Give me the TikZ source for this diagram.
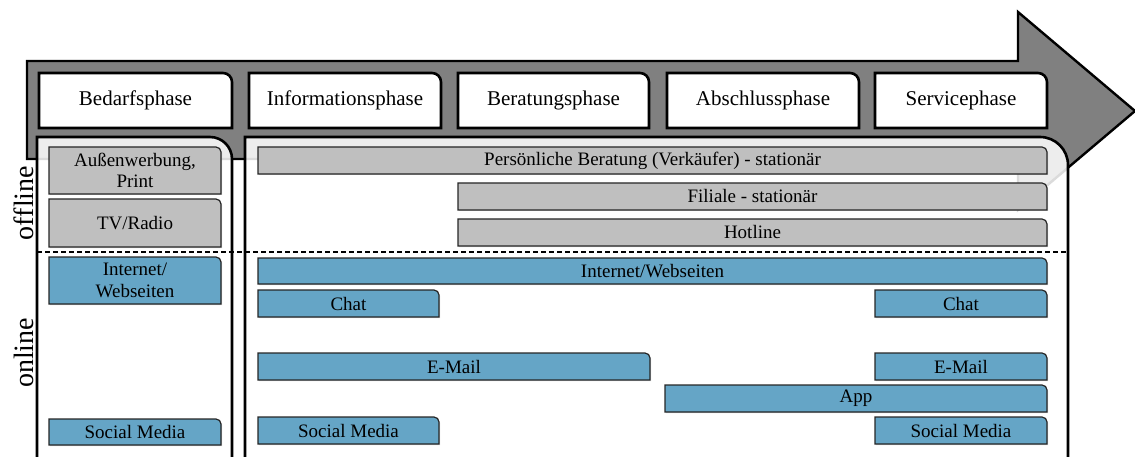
\documentclass[tikz,border=0pt]{standalone}
\usepackage{fontspec}
\setmainfont{Liberation Serif}
\usepackage{tikz}
\usetikzlibrary{shadows}
\definecolor{arrowgray}{HTML}{808080}
\definecolor{chgray}{HTML}{BFBFBF}
\definecolor{chblue}{HTML}{65A5C6}
\tikzset{
	arrowbody/.style={fill=arrowgray,draw=black,line width=2.4pt,line join=miter},
	phase/.style={fill=white,draw=black,line width=2.6pt},
	phase label/.style={font=\fontsize{21}{24}\selectfont},
	panel/.style={fill=white,fill opacity=0.86,draw=black,line width=2.6pt},
	panel label/.style={},
	offbar/.style={fill=chgray,draw=black!85,line width=1.2pt,
		drop shadow={shadow xshift=1pt,shadow yshift=-1pt,opacity=0.3}},
	offbar label/.style={font=\fontsize{19}{21.5}\selectfont,align=center},
	onbar/.style={fill=chblue,draw=black!85,line width=1.2pt,
		drop shadow={shadow xshift=1pt,shadow yshift=-1pt,opacity=0.3}},
	onbar label/.style={font=\fontsize{19}{21.5}\selectfont,align=center},
	side/.style={rotate=90,font=\fontsize{28}{30}\selectfont}
}
% box with one rounded corner (top right): style, name, x1, y1, x2, y2, radius, text
\newcommand{\chbox}[8]{%
	\draw[#1] (#3,#6) -- (#3,#4) -- ([xshift=-#7]#5,#4)
		arc[start angle=90,end angle=0,radius=#7] -- (#5,#6) -- cycle;
	\node[#1 label,inner sep=0pt] (#2) at (#3/2+#5/2,#4/2+#6/2) {#8};}

\begin{document}
\begin{tikzpicture}[x=1pt,y=-1pt]
	\path[use as bounding box,clip] (0,0) rectangle (1135,457);
	\filldraw[arrowbody] (27,61) -- (1018,61) -- (1018,12) -- (1135,111)
		-- (1018,210) -- (1018,159) -- (27,159) -- cycle;
	% phases
	\chbox{phase}{bedarf}{39}{73}{232}{128}{9pt}{Bedarfsphase}
	\chbox{phase}{info}{249}{73}{441}{128}{9pt}{Informationsphase}
	\chbox{phase}{beratung}{458}{73}{649}{128}{9pt}{Beratungsphase}
	\chbox{phase}{abschluss}{667}{73}{859}{128}{9pt}{Abschlussphase}
	\chbox{phase}{service}{875}{73}{1047}{128}{9pt}{Servicephase}
	% panels
	\chbox{panel}{leftpanel}{37}{137}{232}{490}{22pt}{}
	\chbox{panel}{rightpanel}{245}{137}{1068}{490}{28pt}{}
	\coordinate (sepl) at (37,252);
	\coordinate (sepr) at (1068,252);
	\draw[line width=1.3pt,dash pattern=on 5pt off 3pt] (sepl) -- (sepr);
	% offline
	\chbox{offbar}{aussen}{49}{147}{221}{194}{5pt}{Außenwerbung,\\Print}
	\chbox{offbar}{tvradio}{49}{199}{221}{247}{5pt}{TV/Radio}
	\chbox{offbar}{personal}{258}{147}{1047}{174}{5pt}{Persönliche Beratung (Verkäufer) - stationär}
	\chbox{offbar}{filiale}{458}{183}{1047}{210}{5pt}{Filiale - stationär}
	\chbox{offbar}{hotline}{458}{219}{1047}{246}{5pt}{Hotline}
	% online
	\chbox{onbar}{webleft}{49}{257}{221}{304}{5pt}{Internet/\\Webseiten}
	\chbox{onbar}{socialleft}{49}{419}{221}{445}{5pt}{Social Media}
	\chbox{onbar}{web}{258}{258}{1047}{284}{5pt}{Internet/Webseiten}
	\chbox{onbar}{chatinfo}{258}{290}{439}{317}{5pt}{Chat}
	\chbox{onbar}{chatservice}{875}{290}{1047}{317}{5pt}{Chat}
	\chbox{onbar}{mailinfo}{258}{353}{650}{380}{5pt}{E-Mail}
	\chbox{onbar}{mailservice}{875}{353}{1047}{380}{5pt}{E-Mail}
	\chbox{onbar}{app}{665}{385}{1047}{412}{5pt}{App}
	\chbox{onbar}{socialinfo}{258}{417}{439}{444}{5pt}{Social Media}
	\chbox{onbar}{socialservice}{875}{417}{1047}{444}{5pt}{Social Media}
	\node[side] (offline) at (24,203) {offline};
	\node[side] (online) at (24,353) {online};
\end{tikzpicture}
\end{document}
